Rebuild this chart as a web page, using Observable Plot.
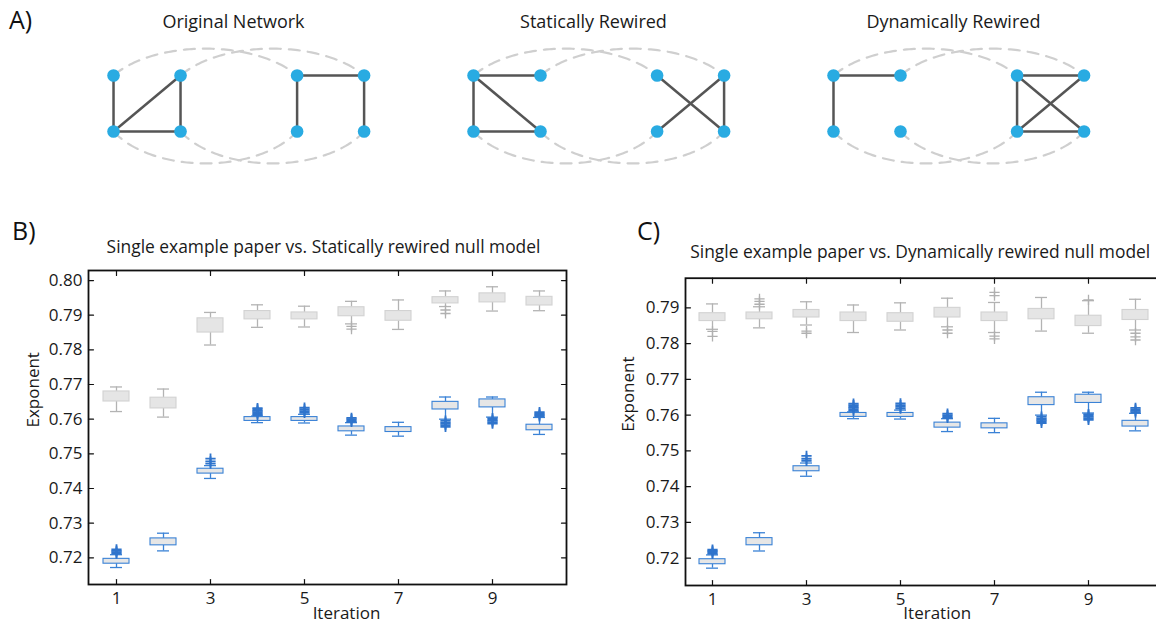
<!DOCTYPE html>
<html><head><meta charset="utf-8">
<script src="https://cdn.jsdelivr.net/npm/d3@7"></script>
<script src="https://cdn.jsdelivr.net/npm/@observablehq/plot@0.6"></script>
<style>
html,body{margin:0;padding:0;background:#fff;overflow:hidden;}
#fig{position:relative;width:1156px;height:623px;overflow:hidden;font-family:"Open Sans",sans-serif;color:#1a1a1a;}
.panel{position:absolute;}
.panel svg{max-width:none !important;}
.lab{position:absolute;font-size:25px;line-height:1;color:#111;}
</style></head><body>
<div id="fig">
  <div id="pa" class="panel" style="left:0;top:0;width:1156px"></div>
  <div id="pb" class="panel" style="left:0;top:230px;width:590px"></div>
  <div id="pc" class="panel" style="left:590px;top:230px;width:590px"></div>
  <div class="lab" style="left:9px;top:7px">A)</div>
  <div class="lab" style="left:12px;top:218px">B)</div>
  <div class="lab" style="left:637px;top:218px">C)</div>
</div>
<script>
// ---------------- Panel A data ----------------
const panelTitles = ["Original Network", "Statically Rewired", "Dynamically Rewired"];
const nodeNames = ["aTL","aTR","aBL","aBR","bTL","bTR","bBL","bBR"];
const nodeX = [0, 1, 0, 1, 2.74, 3.74, 2.74, 3.74];
const nodeY = [0, 0, 1, 1, 0, 0, 1, 1];
const edgesOriginal = [["aTL","aBL"],["aBL","aTR"],["aTR","aBR"],["aBL","aBR"],["bTL","bTR"],["bTL","bBL"],["bTR","bBR"]];
const edgesStatic   = [["aTL","aTR"],["aTL","aBL"],["aTL","aBR"],["aBL","aBR"],["bTL","bBR"],["bBL","bTR"],["bTR","bBR"]];
const edgesDynamic  = [["aTL","aTR"],["aTL","aBL"],["bTL","bTR"],["bTL","bBL"],["bTL","bBR"],["bBL","bTR"],["bBL","bBR"]];
// dashed lens outlines join these node columns
const lensEnds = [[0, 2.74], [1, 3.74]];

// ---------------- Panel B / C data ----------------
const iterations = [1,2,3,4,5,6,7,8,9,10];
const xTickLabels = [1,3,5,7,9];
const yTicksB = [0.72,0.73,0.74,0.75,0.76,0.77,0.78,0.79,0.80];
const yTicksC = [0.72,0.73,0.74,0.75,0.76,0.77,0.78,0.79];
// [lower whisker, q1, q3, upper whisker]
const paperStats = [
  [0.7172,0.7183,0.7197,0.7209],
  [0.7220,0.7236,0.7256,0.7271],
  [0.7429,0.7443,0.7457,0.7466],
  [0.7590,0.7595,0.7606,0.7609],
  [0.7589,0.7595,0.7606,0.7614],
  [0.7554,0.7565,0.7579,0.7590],
  [0.7551,0.7563,0.7577,0.7591],
  [0.7600,0.7628,0.7650,0.7664],
  [0.7606,0.7634,0.7657,0.7664],
  [0.7556,0.7568,0.7584,0.7605]
];
const paperOutliers = [
  [1,[0.7212,0.7216,0.7220,0.7224]],
  [3,[0.7472,0.7478,0.7486]],
  [4,[0.7612,0.7616,0.7620,0.7624,0.7628,0.7632]],
  [5,[0.7618,0.7623,0.7628,0.7633]],
  [6,[0.7592,0.7596,0.7600,0.7604]],
  [8,[0.7596,0.7591,0.7587,0.7583,0.7578]],
  [9,[0.7603,0.7599,0.7595,0.7591,0.7587]],
  [10,[0.7608,0.7612,0.7616,0.7620]]
];
const staticStats = [
  [0.7622,0.7651,0.7680,0.7693],
  [0.7606,0.7631,0.7662,0.7687],
  [0.7814,0.7850,0.7891,0.7908],
  [0.7865,0.7888,0.7912,0.7930],
  [0.7866,0.7888,0.7908,0.7926],
  [0.7875,0.7897,0.7923,0.7940],
  [0.7859,0.7884,0.7912,0.7944],
  [0.7925,0.7934,0.7952,0.7970],
  [0.7912,0.7937,0.7963,0.7982],
  [0.7913,0.7928,0.7953,0.7970]
];
const staticOutliers = [
  [6,[0.7868,0.7860]],
  [8,[0.7915,0.7905]]
];
const dynamicStats = [
  [0.7840,0.7863,0.7885,0.7911],
  [0.7844,0.7868,0.7887,0.7903],
  [0.7852,0.7873,0.7894,0.7917],
  [0.7831,0.7863,0.7887,0.7908],
  [0.7838,0.7861,0.7885,0.7914],
  [0.7847,0.7873,0.7900,0.7927],
  [0.7831,0.7863,0.7887,0.7915],
  [0.7835,0.7868,0.7897,0.7929],
  [0.7829,0.7849,0.7878,0.7920],
  [0.7838,0.7866,0.7894,0.7924]
];
const dynamicOutliers = [
  [1,[0.7834,0.7820]],
  [2,[0.7910,0.7918,0.7925]],
  [3,[0.7835,0.7829]],
  [6,[0.7838,0.7829]],
  [7,[0.7934,0.7943,0.7821,0.7813]],
  [9,[0.7922]],
  [10,[0.7829,0.7819,0.7810]]
];

// ---------------- Panel A ----------------
const spacing = 5.373;
const nodeIndex = new Map(nodeNames.map((n,i)=>[n,i]));
const nodes = [], edges = [], arcs = [];
[edgesOriginal, edgesStatic, edgesDynamic].forEach((es, p) => {
  nodeNames.forEach((n,i)=> nodes.push({x: p*spacing + nodeX[i], y: nodeY[i]}));
  es.forEach(([a,b]) => {
    const i = nodeIndex.get(a), j = nodeIndex.get(b);
    edges.push({x1: p*spacing + nodeX[i], y1: nodeY[i], x2: p*spacing + nodeX[j], y2: nodeY[j]});
  });
  lensEnds.forEach(([x0,x1], li) => {
    ["top","bottom"].forEach(side => {
      const cx = (x0+x1)/2, d = (x1-x0)/2;
      const r = side === "top" ? 0.98 : 1.07;
      const s = 0.5 / r;
      const a = d / Math.sqrt(1 - s*s);
      for (let k = 0; k <= 80; k++) {
        const x = x0 + (x1-x0)*k/80;
        const h = r * Math.sqrt(Math.max(0, 1 - ((x-cx)/a)**2));
        arcs.push({arc: `${p}-${li}-${side}`, x: p*spacing + x, y: side === "top" ? 0.5 - h : 0.5 + h});
      }
    });
  });
});
const titles = panelTitles.map((t,p)=>({t, x: p*spacing + 1.79}));

const plotA = Plot.plot({
  width: 1156, height: 185,
  marginLeft: 0, marginRight: 0, marginTop: 47, marginBottom: 26,
  x: {domain: [-1.687, 15.567], axis: null},
  y: {domain: [-0.5, 1.5], reverse: true, axis: null},
  style: {fontFamily: "'Open Sans', sans-serif", color: "#1a1a1a", background: "transparent"},
  marks: [
    Plot.line(arcs, {x: "x", y: "y", z: "arc", stroke: "#cfcfcf", strokeWidth: 2.2, strokeDasharray: "11,8"}),
    Plot.link(edges, {x1: "x1", y1: "y1", x2: "x2", y2: "y2", stroke: "#555555", strokeWidth: 2.5}),
    Plot.dot(nodes, {x: "x", y: "y", r: 6.3, fill: "#29abe2", stroke: "none"}),
    Plot.text(titles, {x: "x", frameAnchor: "top", dy: -25.5, text: "t", fontSize: 18, lineAnchor: "middle", fill: "#1a1a1a"})
  ]
});
document.getElementById("pa").appendChild(plotA);

// ---------------- Panels B and C ----------------
function toRows(stats) {
  return stats.map((s,i)=>({iter: iterations[i], lo: s[0], q1: s[1], q3: s[2], hi: s[3]}));
}
function toOutliers(list) {
  return list.flatMap(([it, vals]) => vals.map(v => ({iter: it, v})));
}
const tickShape = {draw(context, l) { context.moveTo(0, 0); context.lineTo(0, -l); }};

function boxMarks(rows, outs, c) {
  return [
    Plot.ruleX(rows, {x: "iter", y1: "lo", y2: "q1", stroke: c.whisker, strokeWidth: 1.3}),
    Plot.ruleX(rows, {x: "iter", y1: "q3", y2: "hi", stroke: c.whisker, strokeWidth: 1.3}),
    Plot.tickY(rows, {x: "iter", y: "lo", stroke: c.whisker, strokeWidth: 1.3, insetLeft: 7, insetRight: 7}),
    Plot.tickY(rows, {x: "iter", y: "hi", stroke: c.whisker, strokeWidth: 1.3, insetLeft: 7, insetRight: 7}),
    Plot.barY(rows, {x: "iter", y1: "q1", y2: "q3", fill: c.fill, stroke: c.edge, strokeWidth: 1.1}),
    Plot.dot(outs, {x: "iter", y: "v", symbol: "plus", r: 3.4, stroke: c.out, strokeWidth: c.outW})
  ];
}
const grayStyle = {whisker: "#b3b3b3", fill: "#e5e5e5", edge: "#d2d2d2", out: "#b0b0b0", outW: 1.3};
const blueStyle = {whisker: "#3a82d6", fill: "#e6e6e6", edge: "#3a82d6", out: "#2f74cc", outW: 1.8};

function boxPanel(o) {
  const marks = [
    ...boxMarks(toRows(o.nullStats), toOutliers(o.nullOutliers), grayStyle),
    ...boxMarks(toRows(paperStats), toOutliers(paperOutliers), blueStyle),
    Plot.frame({stroke: "#111", strokeWidth: 1.8}),
    Plot.axisY(o.yTicks, {tickSize: 0, tickPadding: 6, tickFormat: d3.format(".2f"), fontSize: 17, label: null}),
    Plot.axisX(xTickLabels, {tickSize: 0, tickPadding: 7, fontSize: 17, label: null}),
    Plot.vector(o.yTicks, {y: d => d, frameAnchor: "left", length: 5, rotate: 90, anchor: "start", shape: tickShape, stroke: "#111", strokeWidth: 1.2}),
    Plot.vector(xTickLabels, {x: d => d, frameAnchor: "top", length: 5, rotate: 180, anchor: "start", shape: tickShape, stroke: "#111", strokeWidth: 1.2}),
    Plot.vector(xTickLabels, {x: d => d, frameAnchor: "bottom", length: 5, rotate: 0, anchor: "start", shape: tickShape, stroke: "#111", strokeWidth: 1.2}),
    Plot.text([o.title], {frameAnchor: "top", dx: o.titleDx, dy: o.titleDy, lineAnchor: "bottom", fontSize: 17.4, fill: "#1a1a1a"}),
    Plot.text(["Exponent"], {frameAnchor: "left", dx: o.ylabDx, rotate: -90, lineAnchor: "middle", fontSize: 17, fill: "#1a1a1a"}),
    Plot.text(["Iteration"], {frameAnchor: "bottom", dx: o.xlabDx, dy: o.xlabDy, lineAnchor: "bottom", fontSize: 17, fill: "#1a1a1a"})
  ];
  if (o.rightTicks) marks.push(Plot.vector(o.yTicks, {y: d => d, frameAnchor: "right", length: 5, rotate: -90, anchor: "start", shape: tickShape, stroke: "#111", strokeWidth: 1.2}));
  return Plot.plot({
    width: 590, height: 393,
    marginLeft: o.ml, marginRight: o.mr, marginTop: o.mt, marginBottom: o.mb,
    x: {type: "band", domain: iterations, paddingInner: 0.456, paddingOuter: 0.228, axis: null},
    y: {domain: o.yDomain, axis: null},
    style: {fontFamily: "'Open Sans', sans-serif", color: "#1a1a1a", background: "transparent", overflow: "visible", maxWidth: "none"},
    marks
  });
}

document.getElementById("pb").appendChild(boxPanel({
  nullStats: staticStats, nullOutliers: staticOutliers,
  title: "Single example paper vs. Statically rewired null model",
  yTicks: yTicksB, yDomain: [0.7123, 0.8029],
  ml: 88, mr: 24, mt: 40, mb: 39,
  titleDx: -4, titleDy: -18, xlabDx: 19, xlabDy: 34, ylabDx: -55, rightTicks: true
}));
document.getElementById("pc").appendChild(boxPanel({
  nullStats: dynamicStats, nullOutliers: dynamicOutliers,
  title: "Single example paper vs. Dynamically rewired null model",
  yTicks: yTicksC, yDomain: [0.71235, 0.79829],
  ml: 95, mr: 17.6, mt: 47.7, mb: 38,
  titleDx: -4, titleDy: -20, xlabDx: 13, xlabDy: 33, ylabDx: -57, rightTicks: false
}));
</script>
</body></html>
